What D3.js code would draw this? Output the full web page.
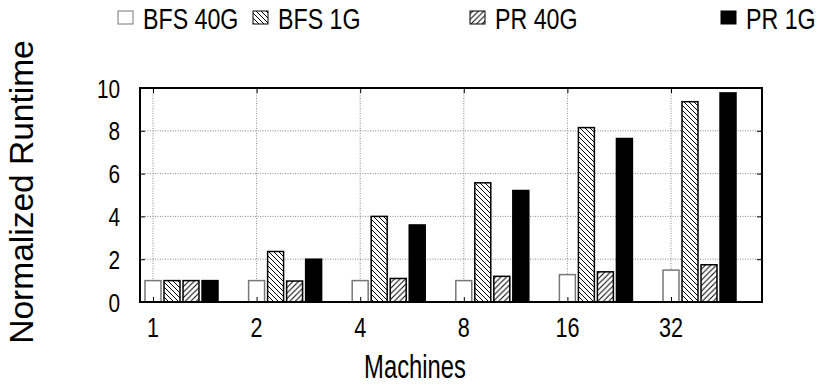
<!DOCTYPE html>
<style>
body { margin: 0; background: #fff; }
svg { display: block; }
text { font-family: "Liberation Sans", Arial, sans-serif; fill: #000; }
</style>
<svg width="821" height="387"></svg>
<script src="https://d3js.org/d3.v7.min.js"></script>
<script>

// machines on the x axis
var machines = ["1", "2", "4", "8", "16", "32"];
var series = ["BFS 40G", "BFS 1G", "PR 40G", "PR 1G"];
// normalized runtime, one array per series
var bfs40 = [1.0, 1.0, 1.0, 1.0, 1.28, 1.49];
var bfs1 = [1.0, 2.36, 4.0, 5.57, 8.15, 9.36];
var pr40 = [1.0, 0.98, 1.1, 1.2, 1.41, 1.74];
var pr1 = [1.0, 2.0, 3.6, 5.21, 7.64, 9.77];
var yTicks = [0, 2, 4, 6, 8, 10];

var values = [bfs40, bfs1, pr40, pr1];

var svg = d3.select("svg"),
    margin = {left: 140, top: 88, right: 59, bottom: 85},
    width = +svg.attr("width") - margin.left - margin.right,
    height = +svg.attr("height") - margin.top - margin.bottom;

// the original figure's lettering is narrow, squeeze it sideways
var sx = 0.8;

// hatch patterns
var defs = svg.append("defs");
function hatch(id, dir, gap) {
    var p = defs.append("pattern")
        .attr("id", id)
        .attr("patternUnits", "userSpaceOnUse")
        .attr("width", gap).attr("height", gap);
    p.append("rect").attr("width", gap).attr("height", gap).attr("fill", "#fff");
    if (dir > 0) {
        p.append("path").attr("d", "M0," + gap + "L" + gap + ",0M-1,1L1,-1M" + (gap - 1) + "," + (gap + 1) + "L" + (gap + 1) + "," + (gap - 1));
    } else {
        p.append("path").attr("d", "M0,0L" + gap + "," + gap + "M-1," + (gap - 1) + "L1," + (gap + 1) + "M" + (gap - 1) + ",-1L" + (gap + 1) + ",1");
    }
    p.select("path").attr("stroke", "#000").attr("stroke-width", 1);
}
hatch("back", -1, 5);
hatch("fwd", 1, 5.5);

var fills = ["#fff", "url(#back)", "url(#fwd)", "#000"];
var strokes = ["#777", "#000", "#000", "#000"];

var x = d3.scalePoint()
    .domain(machines)
    .range([13, 531]);

var xs = d3.scaleBand()
    .domain(series)
    .range([-8, 65])
    .paddingInner(0.16);

var y = d3.scaleLinear()
    .domain([0, 10])
    .range([height, 0]);

var g = svg.append("g")
    .attr("transform", "translate(" + margin.left + "," + margin.top + ")");

// grid
g.selectAll(".hgrid")
  .data(yTicks)
  .enter().append("line")
    .attr("x1", 0).attr("x2", width)
    .attr("y1", function(d) { return y(d); })
    .attr("y2", function(d) { return y(d); })
    .attr("stroke", "#888")
    .attr("stroke-width", 1)
    .attr("stroke-dasharray", "1,1.5");

g.selectAll(".vgrid")
  .data(machines)
  .enter().append("line")
    .attr("x1", function(d) { return x(d); })
    .attr("x2", function(d) { return x(d); })
    .attr("y1", 0).attr("y2", height)
    .attr("stroke", "#888")
    .attr("stroke-width", 1)
    .attr("stroke-dasharray", "1,1.5");

// bars
series.forEach(function(s, i) {
    g.append("g")
      .selectAll("rect")
      .data(values[i])
      .enter().append("rect")
        .attr("x", function(d, j) { return x(machines[j]) + xs(s); })
        .attr("y", function(d) { return y(d); })
        .attr("width", xs.bandwidth())
        .attr("height", function(d) { return height - y(d); })
        .attr("fill", fills[i])
        .attr("stroke", strokes[i])
        .attr("stroke-width", 1.5);
});

// axes, ticks drawn inward on both sides
g.append("g")
    .call(d3.axisLeft(y).tickValues(yTicks).tickSize(-5).tickPadding(20))
    .call(function(a) {
        a.select(".domain").remove();
        a.selectAll("text")
            .attr("font-size", 26)
            .attr("font-family", "Liberation Sans, Arial, sans-serif")
            .attr("x", -20 / sx)
            .attr("dy", "0.35em")
            .attr("transform", "scale(" + sx + ",1)");
    });

g.append("g")
    .attr("transform", "translate(" + width + ",0)")
    .call(d3.axisRight(y).tickValues(yTicks).tickSize(-5).tickFormat(""))
    .select(".domain").remove();

g.append("g")
    .attr("transform", "translate(0," + height + ")")
    .call(d3.axisBottom(x).tickSize(-5).tickFormat(""))
    .select(".domain").remove();

g.append("g")
    .call(d3.axisTop(x).tickSize(-5).tickFormat(""))
    .select(".domain").remove();

g.selectAll(".xlab")
  .data(machines)
  .enter().append("text")
    .attr("transform", function(d) { return "translate(" + x(d) + "," + (height + 35) + ") scale(" + sx + ",1)"; })
    .attr("text-anchor", "middle")
    .attr("font-size", 27)
    .text(function(d) { return d; });

g.append("rect")
    .attr("width", width).attr("height", height)
    .attr("fill", "none")
    .attr("stroke", "#000")
    .attr("stroke-width", 2);

// axis titles
svg.append("text")
    .attr("transform", "translate(" + (margin.left + 275) + ",378) scale(0.7,1)")
    .attr("text-anchor", "middle")
    .attr("font-size", 34)
    .text("Machines");

svg.append("text")
    .attr("transform", "translate(33,192) rotate(-90)")
    .attr("text-anchor", "middle")
    .attr("font-size", 33.5)
    .text("Normalized Runtime");

// legend
var legX = [118, 253, 470, 721];
var leg = svg.append("g").attr("class", "legend");
series.forEach(function(s, i) {
    leg.append("rect")
        .attr("x", legX[i]).attr("y", 11)
        .attr("width", 15).attr("height", 13)
        .attr("fill", fills[i])
        .attr("stroke", strokes[i])
        .attr("stroke-width", 1);
    leg.append("text")
        .attr("transform", "translate(" + (legX[i] + 25) + ",29) scale(" + sx + ",1)")
        .attr("font-size", 29)
        .text(s);
});

</script>
